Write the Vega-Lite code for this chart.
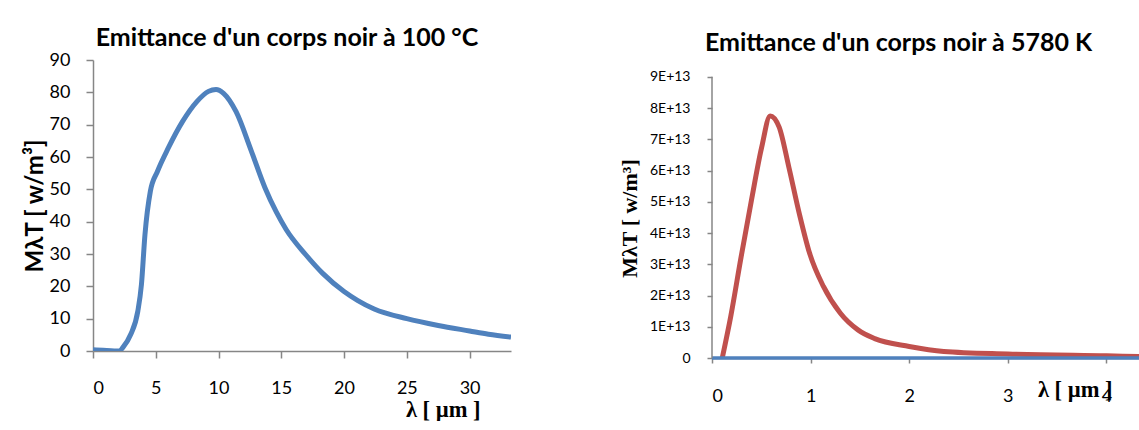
{
  "$schema": "https://vega.github.io/schema/vega-lite/v6.json",
  "padding": {"left": 23, "top": 26, "right": 0, "bottom": 0},
  "spacing": 107,
  "config": {
    "view": {"stroke": null},
    "font": "Lato",
    "axis": {"domainColor": "#868686", "tickColor": "#868686", "grid": false, "labelColor": "#000000", "labelFont": "Lato", "titleColor": "#000000", "domainWidth": 1.5, "tickWidth": 1.5, "labelOverlap": false},
    "title": {"font": "Lato", "fontWeight": "bold", "fontSize": 25, "color": "#000000"}
  },
  "datasets": {
    "c100": [
      {"x": 0, "y": 0.4}, {"x": 0.8, "y": 0.2}, {"x": 1.7, "y": 0}, {"x": 2.1, "y": 0}, {"x": 2.4, "y": 1.2},
      {"x": 3.0, "y": 5.1}, {"x": 3.57, "y": 12.3}, {"x": 3.86, "y": 20.6}, {"x": 4.14, "y": 36},
      {"x": 4.57, "y": 49.4}, {"x": 5.14, "y": 55.6}, {"x": 6.0, "y": 62.8}, {"x": 7.14, "y": 71},
      {"x": 8.29, "y": 77.2}, {"x": 9.2, "y": 80.3}, {"x": 9.8, "y": 80.9}, {"x": 10.4, "y": 79.7},
      {"x": 11.4, "y": 74}, {"x": 12.6, "y": 62}, {"x": 13.7, "y": 50.5}, {"x": 14.6, "y": 43},
      {"x": 15.4, "y": 37.5}, {"x": 16.9, "y": 30}, {"x": 18.3, "y": 24}, {"x": 20, "y": 18.4},
      {"x": 21.1, "y": 15.6}, {"x": 22.4, "y": 13.0}, {"x": 25, "y": 10}, {"x": 27.5, "y": 7.9},
      {"x": 30, "y": 6.2}, {"x": 31.5, "y": 5.2}, {"x": 33.3, "y": 4.3}
    ],
    "c5780": [
      {"x": 0.104, "y": 0}, {"x": 0.19, "y": 1.33e13}, {"x": 0.296, "y": 3.25e13}, {"x": 0.4, "y": 5.05e13},
      {"x": 0.504, "y": 6.75e13}, {"x": 0.59, "y": 7.75e13}, {"x": 0.68, "y": 7.4e13}, {"x": 0.78, "y": 6.1e13},
      {"x": 0.887, "y": 4.6e13}, {"x": 0.99, "y": 3.35e13}, {"x": 1.13, "y": 2.29e13}, {"x": 1.3, "y": 1.44e13},
      {"x": 1.48, "y": 0.9e13}, {"x": 1.65, "y": 0.62e13}, {"x": 2.0, "y": 0.37e13}, {"x": 2.35, "y": 0.21e13},
      {"x": 3.0, "y": 0.13e13}, {"x": 4.0, "y": 0.07e13}, {"x": 4.33, "y": 0.05e13}
    ],
    "zero": [{"x": 0, "y": 0}, {"x": 4.33, "y": 0}],
    "yaxis": [{"x": 0, "y": 0, "y2": 9e13}]
  },
  "hconcat": [
    {
      "width": 418,
      "height": 291,
      "title": {"text": "Emittance d'un corps noir à 100 °C", "offset": 0, "anchor": "middle", "dx": -15},
      "data": {"name": "c100"},
      "mark": {"type": "line", "color": "#4F81BD", "strokeWidth": 5, "interpolate": "monotone", "clip": true},
      "encoding": {
        "x": {"field": "x", "type": "quantitative", "scale": {"domain": [0, 33.3], "nice": false},
          "axis": {"values": [0, 5, 10, 15, 20, 25, 30], "labelFontSize": 18, "labelPadding": 21, "tickSize": 7,
            "title": "λ [ µm ]", "titleFont": "Liberation Serif", "titleFontSize": 22.5, "titleFontWeight": "bold",
            "titleAnchor": "end", "titleAlign": "right", "titleX": 387, "titleY": 65, "titleBaseline": "alphabetic"}},
        "y": {"field": "y", "type": "quantitative", "scale": {"domain": [0, 90], "nice": false},
          "axis": {"values": [0, 10, 20, 30, 40, 50, 60, 70, 80, 90], "labelFontSize": 18, "labelPadding": 16, "tickSize": 7,
            "title": "MλT [ w/m³]", "titleFont": "Lato", "titleFontSize": 24, "titleFontWeight": "bold", "titlePadding": 2}}
      }
    },
    {
      "width": 427,
      "height": 298,
      "title": {"text": "Emittance d'un corps noir à 5780 K", "offset": 4, "anchor": "middle", "dx": -27},
      "encoding": {
        "x": {"field": "x", "type": "quantitative", "scale": {"domain": [0, 4.33], "nice": false},
          "axis": {"values": [0, 1, 2, 3, 4], "format": "d", "labelFontSize": 18, "labelPadding": 24, "tickSize": 5,
            "title": "λ [ µm ]", "titleFont": "Liberation Serif", "titleFontSize": 22.5, "titleFontWeight": "bold",
            "titleAnchor": "end", "titleAlign": "right", "titleX": 400, "titleY": 38, "titleBaseline": "alphabetic"}},
        "y": {"field": "y", "type": "quantitative", "scale": {"domain": [0, 9.54e13], "nice": false},
          "axis": {"values": [0, 10000000000000, 20000000000000, 30000000000000, 40000000000000, 50000000000000, 60000000000000, 70000000000000, 80000000000000, 90000000000000], "domain": false, "labelFontSize": 14, "labelPadding": 17, "tickSize": 5,
            "labelExpr": "datum.value == 0 ? '0' : format(datum.value / 1e13, 'd') + 'E+13'",
            "title": "MλT [ w/m³]", "titleFont": "Liberation Serif", "titleFontSize": 22, "titleFontWeight": "bold", "titlePadding": 8, "titleY": 158}}
      },
      "layer": [
        {
          "data": {"name": "c5780"},
          "mark": {"type": "line", "color": "#C0504D", "strokeWidth": 5, "interpolate": "monotone", "clip": true}
        },
        {
          "data": {"name": "zero"},
          "mark": {"type": "line", "color": "#4F81BD", "strokeWidth": 3.5}
        },
        {
          "data": {"name": "yaxis"},
          "mark": {"type": "rule", "color": "#868686", "strokeWidth": 1.5},
          "encoding": {"y2": {"field": "y2"}}
        }
      ]
    }
  ]
}
